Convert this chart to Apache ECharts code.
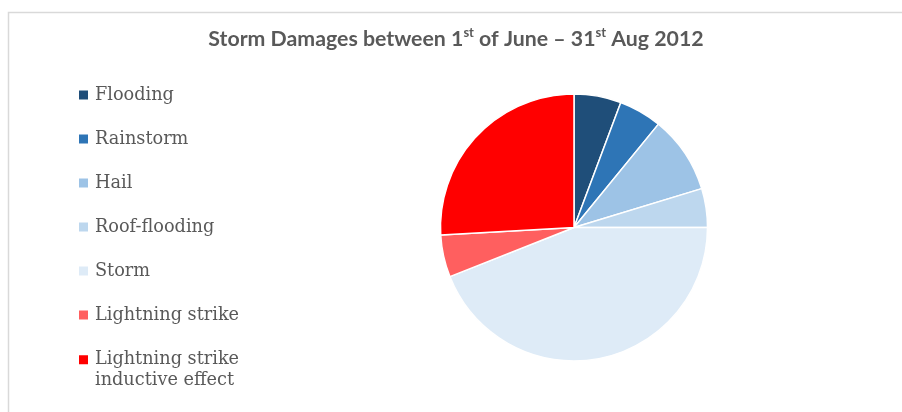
<!DOCTYPE html>
<html>
<head>
<meta charset="utf-8">
<style>
  html, body { margin: 0; padding: 0; background: #ffffff; }
  #chart { width: 902px; height: 412px; }
</style>
<script src="https://cdn.jsdelivr.net/npm/echarts@6/dist/echarts.min.js"></script>
</head>
<body>
<div id="chart"></div>
<script>
// Damage categories, in clockwise order from 12 o'clock
const categories = [
  'Flooding',
  'Rainstorm',
  'Hail',
  'Roof-flooding',
  'Storm',
  'Lightning strike',
  'Lightning strike inductive effect'
];
// Share of damages per category (%)
const shares = [5.7, 5.2, 9.4, 4.7, 44.0, 5.1, 25.9];
const sliceColors = ['#1f4e79', '#2e75b6', '#9dc3e6', '#bdd7ee', '#deebf7', '#ff5f5f', '#ff0000'];

const textGray = '#595959';
const legendFont = { fontFamily: 'DejaVu Serif', fontSize: 17.7, color: textGray, padding: [0, 0, 0, 2] };

const chart = echarts.init(document.getElementById('chart'), null, { renderer: 'canvas' });

chart.setOption({
  animation: false,
  backgroundColor: '#ffffff',
  color: sliceColors,
  title: {
    left: 456,
    top: 26.5,
    textAlign: 'center',
    padding: 0,
    text: '{b|Storm Damages between 1}{s|st}{b| of June \u2013 31}{s|st}{b| Aug 2012}',
    textStyle: {
      rich: {
        b: { fontFamily: 'Lato', fontWeight: 'bold', fontSize: 21.3, color: textGray, lineHeight: 26 },
        s: { fontFamily: 'Lato', fontWeight: 'bold', fontSize: 13, color: textGray, lineHeight: 15, verticalAlign: 'top' }
      }
    }
  },
  legend: [
    {
      orient: 'vertical',
      left: 79,
      top: 84,
      padding: 0,
      itemGap: 22,
      itemWidth: 9,
      itemHeight: 9,
      icon: 'rect',
      itemStyle: { borderWidth: 0 },
      data: categories.slice(0, 6),
      textStyle: Object.assign({ lineHeight: 22 }, legendFont)
    },
    {
      orient: 'vertical',
      left: 79,
      top: 329,
      padding: 0,
      itemWidth: 9,
      itemHeight: 9,
      icon: 'rect',
      itemStyle: { borderWidth: 0 },
      data: categories.slice(6),
      // a blank leading line keeps the marker level with the first text line
      formatter: function (name) {
        return '\n' + name.replace('strike ', 'strike\n');
      },
      textStyle: Object.assign({ lineHeight: 20.5 }, legendFont)
    }
  ],
  graphic: [
    {
      type: 'polyline',
      silent: true,
      shape: { points: [[8.5, 420], [8.5, 12.5], [910, 12.5]] },
      style: { stroke: '#d9d9d9', lineWidth: 1.5, fill: null }
    }
  ],
  series: [
    {
      type: 'pie',
      center: [574, 227.5],
      radius: 133.5,
      startAngle: 90,
      clockwise: true,
      label: { show: false },
      labelLine: { show: false },
      emphasis: { disabled: true },
      itemStyle: { borderColor: '#ffffff', borderWidth: 1.5 },
      data: categories.map(function (name, i) {
        return { name: name, value: shares[i] };
      })
    }
  ]
});
</script>
</body>
</html>
